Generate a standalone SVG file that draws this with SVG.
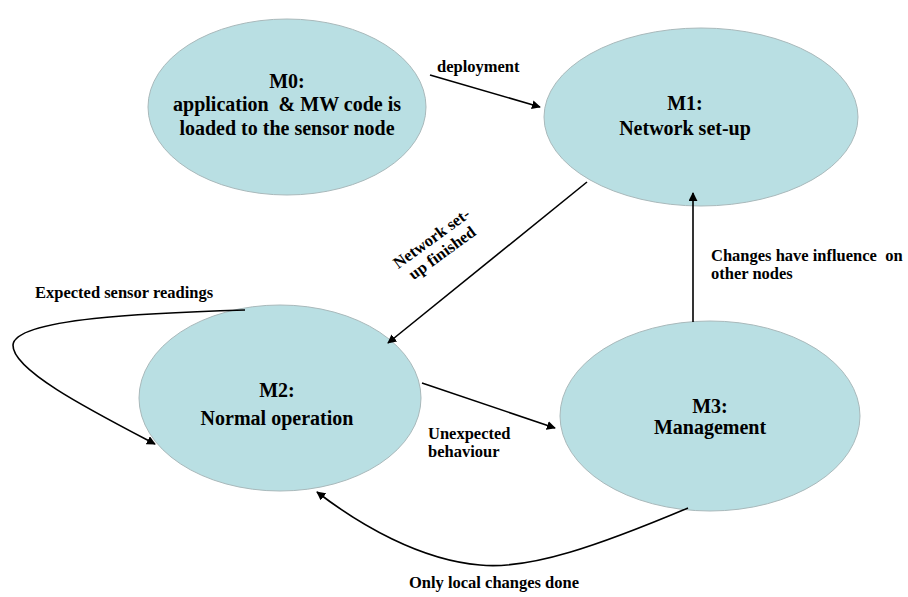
<svg xmlns="http://www.w3.org/2000/svg" width="908" height="597" viewBox="0 0 908 597">
<style>
.node{fill:#b9dfe3;stroke:#a9b9bb;stroke-width:1}
.nt{font-family:'Liberation Serif','Times New Roman','DejaVu Serif',serif;font-weight:700;font-size:20px;fill:#000;text-anchor:middle}
.lt{font-family:'Liberation Serif','Times New Roman','DejaVu Serif',serif;font-weight:700;font-size:16.5px;fill:#000}
.c{fill:none;stroke:#000;stroke-width:1.6;marker-end:url(#ah)}
</style>
<defs>
<marker id="ah" viewBox="0 0 10 10" refX="9" refY="5" markerWidth="9" markerHeight="9" markerUnits="userSpaceOnUse" orient="auto">
<path d="M0,0 L10,5 L0,10 Z" fill="#000"/>
</marker>
</defs>
<rect width="908" height="597" fill="#fff"/>
<g id="M0">
<ellipse class="node" cx="287" cy="107" rx="139" ry="88"/>
<text class="nt" x="287" y="88">M0:</text>
<text class="nt" x="287" y="111" xml:space="preserve">application  &amp; MW code is</text>
<text class="nt" x="287" y="135">loaded to the sensor node</text>
</g>
<g id="M1">
<ellipse class="node" cx="701" cy="117" rx="157" ry="89"/>
<text class="nt" x="685" y="110">M1:</text>
<text class="nt" x="685" y="135">Network set-up</text>
</g>
<g id="M2">
<ellipse class="node" cx="280" cy="398" rx="141" ry="93"/>
<text class="nt" x="277" y="397">M2:</text>
<text class="nt" x="277" y="425">Normal operation</text>
</g>
<g id="M3">
<ellipse class="node" cx="710" cy="416" rx="150" ry="95"/>
<text class="nt" x="710" y="413">M3:</text>
<text class="nt" x="710" y="434">Management</text>
</g>
<g id="connectors">
<path class="c" d="M430,75 L540,107"/>
<path class="c" d="M587,182 L388,343"/>
<path class="c" d="M245,310 C150,313 15,318 13,345 C12,370 90,410 155,444"/>
<path class="c" d="M422,383 L555,428"/>
<path class="c" d="M693,322 L693,193"/>
<path class="c" d="M688,508 C600,545 530,570 480,565 C420,560 360,525 317,492"/>
</g>
<g id="labels">
<text class="lt" x="437" y="72">deployment</text>
<g transform="translate(437,246) rotate(-36)">
<text class="lt" x="0" y="-4" text-anchor="middle">Network set-</text>
<text class="lt" x="0" y="14" text-anchor="middle">up finished</text>
</g>
<text class="lt" x="35" y="298">Expected sensor readings</text>
<text class="lt" x="711" y="261" xml:space="preserve">Changes have influence  on</text>
<text class="lt" x="711" y="279">other nodes</text>
<text class="lt" x="428" y="439">Unexpected</text>
<text class="lt" x="428" y="457">behaviour</text>
<text class="lt" x="494" y="588" text-anchor="middle">Only local changes done</text>
</g>
</svg>
